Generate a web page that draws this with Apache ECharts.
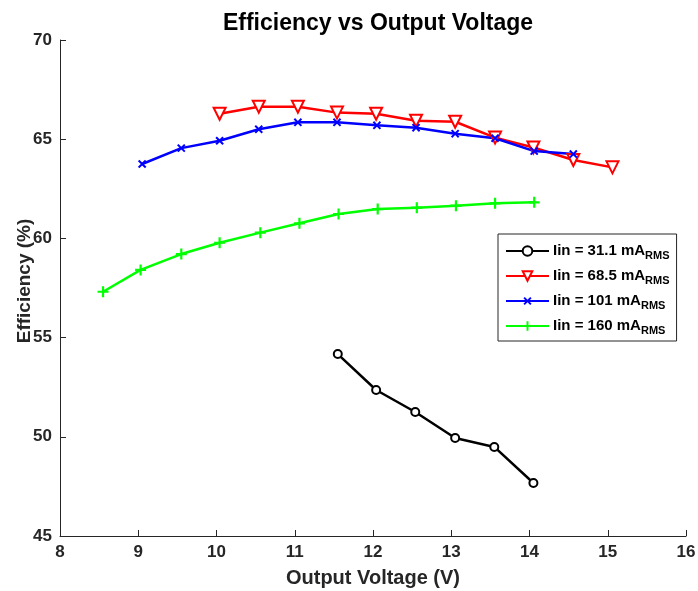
<!DOCTYPE html>
<html>
<head>
<meta charset="utf-8">
<script src="https://cdn.jsdelivr.net/npm/echarts@6/dist/echarts.min.js"></script>
<style>html,body{margin:0;padding:0;background:#fff;}#c{width:698px;height:591px;}</style>
</head>
<body>
<div id="c"></div>
<script>
var xTicks = [8, 9, 10, 11, 12, 13, 14, 15, 16];
var yTicks = [45, 50, 55, 60, 65, 70];

var x31 = [11.55, 12.04, 12.54, 13.05, 13.55, 14.05];
var y31 = [54.17, 52.36, 51.25, 49.94, 49.49, 47.67];

var x68 = [10.04, 10.54, 11.04, 11.54, 12.04, 12.55, 13.05, 13.56, 14.05, 14.56, 15.06];
var y68 = [66.28, 66.64, 66.64, 66.34, 66.28, 65.93, 65.88, 65.08, 64.58, 63.95, 63.58];

var x101 = [9.05, 9.55, 10.04, 10.54, 11.04, 11.54, 12.05, 12.55, 13.05, 13.56, 14.06, 14.56];
var y101 = [63.75, 64.55, 64.92, 65.5, 65.85, 65.85, 65.7, 65.58, 65.28, 65.05, 64.4, 64.25];

var x160 = [8.55, 9.03, 9.55, 10.04, 10.56, 11.06, 11.56, 12.06, 12.56, 13.06, 13.56, 14.06];
var y160 = [57.31, 58.41, 59.21, 59.78, 60.29, 60.76, 61.23, 61.48, 61.55, 61.65, 61.77, 61.82];

var names = ['Iin = 31.1 mA', 'Iin = 68.5 mA', 'Iin = 101 mA', 'Iin = 160 mA'];

function pairs(xs, ys) { return xs.map(function (x, i) { return [x, ys[i]]; }); }

var FONT = '"Liberation Sans", Arial, sans-serif';
var AX = '#262626';
var plus = 'path://M4,0H6V4H10V6H6V10H4V6H0V4H4Z';

var chart = echarts.init(document.getElementById('c'), null, {renderer: 'canvas'});
chart.setOption({
  animation: false,
  backgroundColor: '#fff',
  title: {
    text: 'Efficiency vs Output Voltage',
    left: 373, top: 7, textAlign: 'center',
    textStyle: {fontFamily: FONT, fontWeight: 'bold', fontSize: 23, color: '#000'}
  },
  grid: {left: 60, right: 12, top: 40, bottom: 55, containLabel: false, outerBoundsMode: 'none'},
  xAxis: {
    type: 'value', min: xTicks[0], max: xTicks[xTicks.length - 1], interval: 1,
    name: 'Output Voltage (V)', nameLocation: 'middle', nameGap: 32, nameMoveOverlap: false,
    nameTextStyle: {fontFamily: FONT, fontWeight: 'bold', fontSize: 20, color: AX},
    axisLine: {show: true, onZero: false, lineStyle: {color: AX, width: 1}},
    axisTick: {show: true, inside: true, length: 6, lineStyle: {color: AX}},
    axisLabel: {fontFamily: FONT, fontWeight: 'bold', fontSize: 17, color: AX, margin: 8},
    splitLine: {show: false}
  },
  yAxis: {
    type: 'value', min: yTicks[0], max: yTicks[yTicks.length - 1], interval: 5,
    name: 'Efficiency (%)', nameLocation: 'middle', nameGap: 26, nameMoveOverlap: false,
    nameTextStyle: {fontFamily: FONT, fontWeight: 'bold', fontSize: 19, color: AX, padding: [0, 0, 0, 14]},
    axisLine: {show: true, onZero: false, lineStyle: {color: AX, width: 1}},
    axisTick: {show: true, inside: true, length: 6, lineStyle: {color: AX}},
    axisLabel: {fontFamily: FONT, fontWeight: 'bold', fontSize: 17, color: AX, margin: 8},
    splitLine: {show: false}
  },
  legend: {
    orient: 'vertical', left: 498, top: 234,
    padding: [7, 7, 5, 7],
    itemGap: 5, itemWidth: 43, itemHeight: 12,
    borderColor: AX, borderWidth: 1, backgroundColor: '#fff',
    data: names,
    formatter: function (n) { return '{a|' + n + '}{s|RMS}'; },
    textStyle: {
      fontFamily: FONT, fontWeight: 'bold', fontSize: 15, color: '#000', padding: [0, 0, 0, -1],
      rich: {
        a: {fontFamily: FONT, fontWeight: 'bold', fontSize: 15, color: '#000', lineHeight: 21, verticalAlign: 'middle'},
        s: {fontFamily: FONT, fontWeight: 'bold', fontSize: 11, color: '#000', lineHeight: 21, padding: [9, 0, 0, 0]}
      }
    }
  },
  series: [
    {
      name: names[0], type: 'line', data: pairs(x31, y31),
      symbol: 'emptyCircle', symbolSize: 8,
      lineStyle: {color: '#000', width: 2.5},
      itemStyle: {color: '#000', borderWidth: 2.5}
    },
    {
      name: names[1], type: 'line', data: pairs(x68, y68),
      symbol: 'emptyTriangle', symbolSize: 12, symbolRotate: 180,
      lineStyle: {color: '#ff0000', width: 2.5},
      itemStyle: {color: '#ff0000', borderWidth: 2}
    },
    {
      name: names[2], type: 'line', data: pairs(x101, y101),
      symbol: plus, symbolSize: 10, symbolRotate: 45,
      lineStyle: {color: '#0000ff', width: 2.5},
      itemStyle: {color: '#0000ff'}
    },
    {
      name: names[3], type: 'line', data: pairs(x160, y160),
      symbol: plus, symbolSize: 11,
      lineStyle: {color: '#00ff00', width: 2.5},
      itemStyle: {color: '#00ff00'}
    }
  ]
});
</script>
</body>
</html>
